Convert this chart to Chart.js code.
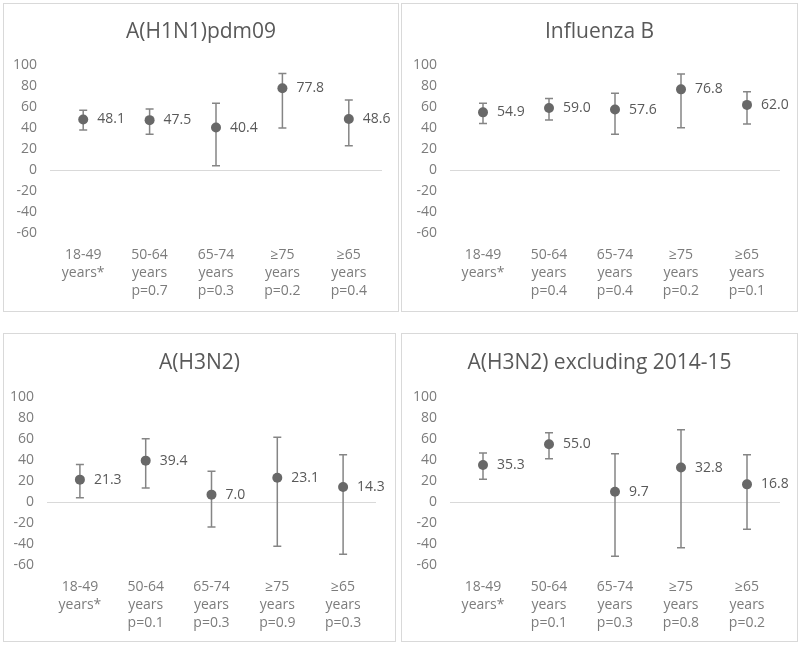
<!DOCTYPE html>
<html>
<head>
<meta charset="utf-8">
<script src="https://cdn.jsdelivr.net/npm/chart.js@4.4.1/dist/chart.umd.min.js"></script>
<style>
  body { margin: 0; background: #fff; width: 800px; height: 648px; position: relative; overflow: hidden; }
  .panel { position: absolute; border: 1px solid #d9d9d9; box-sizing: border-box; }
  .panel canvas { position: absolute; left: 0; top: 0; }
</style>
</head>
<body>
<div class="panel" id="p1"><canvas id="c1"></canvas></div>
<div class="panel" id="p2"><canvas id="c2"></canvas></div>
<div class="panel" id="p3"><canvas id="c3"></canvas></div>
<div class="panel" id="p4"><canvas id="c4"></canvas></div>
<script>
// y axis ticks
const yMin = -60;
const yMax = 100;
const yStep = 20;

// x labels (age group + p-value vs 18-49)
const labelsH1N1 = [['18-49', 'years*'], ['50-64', 'years', 'p=0.7'], ['65-74', 'years', 'p=0.3'], ['≥75', 'years', 'p=0.2'], ['≥65', 'years', 'p=0.4']];
const labelsB = [['18-49', 'years*'], ['50-64', 'years', 'p=0.4'], ['65-74', 'years', 'p=0.4'], ['≥75', 'years', 'p=0.2'], ['≥65', 'years', 'p=0.1']];
const labelsH3 = [['18-49', 'years*'], ['50-64', 'years', 'p=0.1'], ['65-74', 'years', 'p=0.3'], ['≥75', 'years', 'p=0.9'], ['≥65', 'years', 'p=0.3']];
const labelsH3x = [['18-49', 'years*'], ['50-64', 'years', 'p=0.1'], ['65-74', 'years', 'p=0.3'], ['≥75', 'years', 'p=0.8'], ['≥65', 'years', 'p=0.2']];

// VE estimates with lower / upper 95% CI
const veH1N1 = [48.1, 47.5, 40.4, 77.8, 48.6];
const lowH1N1 = [38, 34, 4, 40, 23];
const highH1N1 = [57, 58, 63.5, 92, 66.7];

const veB = [54.9, 59.0, 57.6, 76.8, 62.0];
const lowB = [44.4, 47.6, 34, 40.3, 43.8];
const highB = [63.5, 68, 73, 91.4, 74.6];

const veH3 = [21.3, 39.4, 7.0, 23.1, 14.3];
const lowH3 = [4.1, 13.3, -23.8, -42.2, -49.8];
const highH3 = [35.6, 60.3, 29.2, 61.6, 45];

const veH3x = [35.3, 55.0, 9.7, 32.8, 16.8];
const lowH3x = [21.6, 41.3, -51.7, -43.5, -26];
const highH3x = [46.7, 66, 46, 68.9, 45];

const textColor = '#595959';
const axisColor = '#7c7c7c';
const markerColor = '#686868';
const barColor = '#858585';

Chart.defaults.font.family = "'Open Sans', sans-serif";
Chart.defaults.color = axisColor;

// error bars, drawn under the markers
const errorBars = {
    id: 'errorBars',
    beforeDatasetsDraw(chart) {
        const { ctx, scales } = chart;
        const { low, high } = chart.options.plugins.errorBars;
        ctx.save();
        ctx.strokeStyle = barColor;
        ctx.lineWidth = 1.5;
        low.forEach((v, i) => {
            const x = scales.x.getPixelForValue(i);
            const y1 = scales.y.getPixelForValue(v);
            const y2 = scales.y.getPixelForValue(high[i]);
            ctx.beginPath();
            ctx.moveTo(x, y1); ctx.lineTo(x, y2);
            ctx.moveTo(x - 4, y1); ctx.lineTo(x + 4, y1);
            ctx.moveTo(x - 4, y2); ctx.lineTo(x + 4, y2);
            ctx.stroke();
        });
        ctx.restore();
    }
};

// value label right of each point
const valueLabels = {
    id: 'valueLabels',
    afterDatasetsDraw(chart) {
        const { ctx } = chart;
        const meta = chart.getDatasetMeta(0);
        const data = chart.data.datasets[0].data;
        ctx.save();
        ctx.font = "14px 'Open Sans'";
        ctx.fillStyle = textColor;
        ctx.textAlign = 'left';
        ctx.textBaseline = 'middle';
        meta.data.forEach((pt, i) => {
            ctx.fillText(data[i].toFixed(1), pt.x + 14, pt.y);
        });
        ctx.restore();
    }
};

// title centred on the whole panel
const panelTitle = {
    id: 'panelTitle',
    afterDraw(chart) {
        const o = chart.options.plugins.panelTitle;
        const { ctx } = chart;
        ctx.save();
        ctx.font = "21px 'Open Sans'";
        ctx.fillStyle = textColor;
        ctx.textAlign = 'center';
        ctx.textBaseline = 'middle';
        ctx.fillText(o.text, chart.width / 2, o.y);
        ctx.restore();
    }
};

const makePanel = (n, title, labels, ve, low, high, box) => {
    const div = document.getElementById('p' + n);
    const w = box.right - box.left + 1;
    const h = box.bottom - box.top + 1;
    Object.assign(div.style, { left: box.left + 'px', top: box.top + 'px', width: w + 'px', height: h + 'px' });
    const ox = box.left + 1, oy = box.top + 1;
    const cw = w - 2, ch = h - 2;
    const canvas = document.getElementById('c' + n);
    canvas.width = cw; canvas.height = ch;
    canvas.style.width = cw + 'px'; canvas.style.height = ch + 'px';

    new Chart(canvas, {
        type: 'line',
        data: {
            labels,
            datasets: [{
                data: ve,
                showLine: false,
                pointRadius: 5,
                pointHoverRadius: 5,
                pointBackgroundColor: markerColor,
                pointBorderWidth: 0
            }]
        },
        options: {
            responsive: false,
            animation: false,
            events: [],
            layout: {
                padding: { top: box.areaT - oy, right: ox + cw - box.areaR, left: 0, bottom: 0 }
            },
            plugins: {
                legend: { display: false },
                tooltip: { enabled: false },
                errorBars: { low, high },
                panelTitle: { text: title, y: box.titleY - oy }
            },
            scales: {
                x: {
                    offset: true,
                    grid: { display: false, drawTicks: false },
                    border: { display: false },
                    ticks: { font: { size: 14, lineHeight: 1.3 }, padding: 13, maxRotation: 0, autoSkip: false },
                    afterFit: (s) => { s.height = oy + ch - box.areaB; }
                },
                y: {
                    min: yMin,
                    max: yMax,
                    grid: {
                        drawTicks: false,
                        color: (c) => c.tick && c.tick.value === 0 ? '#d9d9d9' : 'rgba(0,0,0,0)'
                    },
                    border: { display: false },
                    ticks: { stepSize: yStep, font: { size: 14 }, padding: 13 },
                    afterFit: (s) => { s.width = box.areaL - ox; }
                }
            }
        },
        plugins: [errorBars, valueLabels, panelTitle]
    });
};

makePanel(1, 'A(H1N1)pdm09', labelsH1N1, veH1N1, lowH1N1, highH1N1,
   { left: 3, top: 3, right: 398, bottom: 311, areaL: 50, areaR: 382, areaT: 65, areaB: 233, titleY: 32 });
makePanel(2, 'Influenza B', labelsB, veB, lowB, highB,
   { left: 401, top: 3, right: 797, bottom: 311, areaL: 450, areaR: 780, areaT: 65, areaB: 233, titleY: 32 });
makePanel(3, 'A(H3N2)', labelsH3, veH3, lowH3, highH3,
   { left: 3, top: 333, right: 395, bottom: 641, areaL: 47, areaR: 376, areaT: 397, areaB: 565, titleY: 363 });
makePanel(4, 'A(H3N2) excluding 2014-15', labelsH3x, veH3x, lowH3x, highH3x,
   { left: 401, top: 333, right: 797, bottom: 641, areaL: 450, areaR: 780, areaT: 397, areaB: 565, titleY: 363 });
</script>
</body>
</html>
